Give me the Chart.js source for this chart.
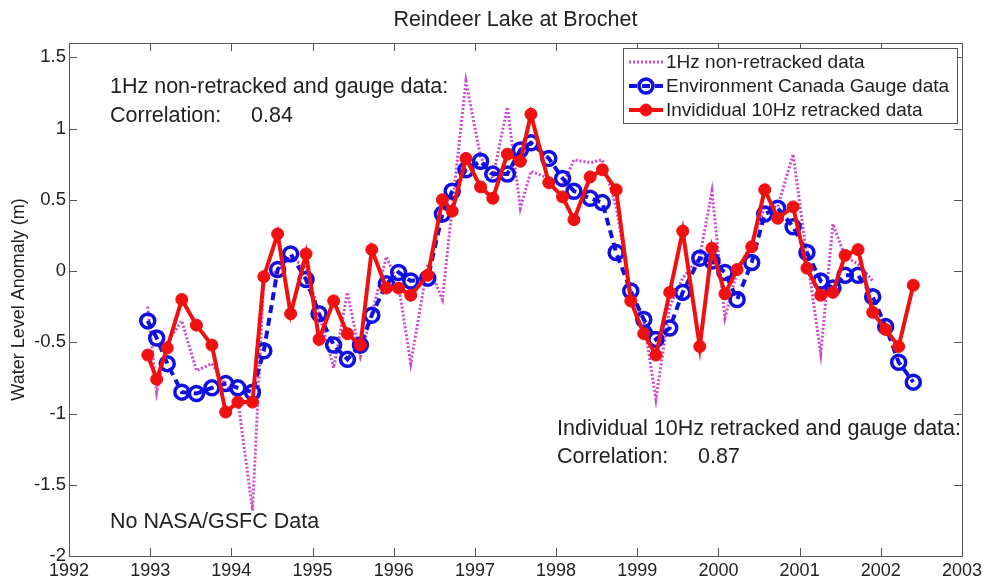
<!DOCTYPE html>
<html>
<head>
<meta charset="utf-8">
<script src="https://cdn.jsdelivr.net/npm/chart.js@4.4.1/dist/chart.umd.min.js"></script>
<style>
  html, body { margin: 0; padding: 0; background: #fff; }
  #wrap { width: 986px; height: 579px; }
</style>
</head>
<body>
<div id="wrap"><canvas id="myChart" width="986" height="579"></canvas></div>
<script>
// sample dates (decimal years), shared by all three series
const dates = [
  1992.97, 1993.08, 1993.21, 1993.39, 1993.57, 1993.76, 1993.93, 1994.08, 1994.26, 1994.40,
  1994.57, 1994.73, 1994.92, 1995.08, 1995.26, 1995.43, 1995.59, 1995.73, 1995.91, 1996.06,
  1996.21, 1996.42, 1996.60, 1996.72, 1996.89, 1997.07, 1997.22, 1997.40, 1997.56, 1997.69,
  1997.91, 1998.08, 1998.22, 1998.42, 1998.57, 1998.74, 1998.92, 1999.08, 1999.23, 1999.40,
  1999.56, 1999.77, 1999.92, 2000.08, 2000.23, 2000.41, 2000.57, 2000.73, 2000.92, 2001.09,
  2001.26, 2001.41, 2001.56, 2001.72, 2001.90, 2002.06, 2002.22, 2002.40
];

// 1Hz non-retracked (stops before 2002)
const oneHz = [
  -0.25, -0.85, -0.50, -0.35, -0.70, -0.65, -0.80, -0.90, -1.68, -0.05,
   0.00,  0.10,  0.02, -0.30, -0.68, -0.15, -0.60, -0.30,  0.10, -0.10,
  -0.65,  0.05, -0.20,  0.45,  1.33,  0.80,  0.65,  1.15,  0.44,  0.70,
   0.65,  0.60,  0.78,  0.76,  0.78,  0.45, -0.15, -0.35, -0.90, -0.25,
  -0.05,  0.10,  0.56, -0.33,  0.00,  0.20,  0.45,  0.45,  0.82,  0.10,
  -0.58,  0.33,  0.10,  0.05, -0.07,  null,  null,  null
];

// Environment Canada gauge
const gauge = [
  -0.35, -0.47, -0.65, -0.85, -0.86, -0.82, -0.79, -0.82, -0.85, -0.56,
   0.01,  0.12, -0.06, -0.30, -0.52, -0.62, -0.52, -0.31, -0.09, -0.01,
  -0.07, -0.05,  0.40,  0.56,  0.71,  0.77,  0.68,  0.68,  0.85,  0.90,
   0.79,  0.65,  0.56,  0.51,  0.48,  0.13, -0.14, -0.34, -0.48, -0.40,
  -0.15,  0.09,  0.07, -0.01, -0.20,  0.06,  0.40,  0.44,  0.31,  0.13,
  -0.07, -0.12, -0.03, -0.03, -0.18, -0.39, -0.64, -0.78
];

// individual 10Hz retracked
const tenHz = [
  -0.59, -0.76, -0.54, -0.20, -0.38, -0.52, -0.99, -0.92, -0.92, -0.04,
   0.26, -0.30,  0.12, -0.48, -0.21, -0.44, -0.52,  0.15, -0.12, -0.12,
  -0.17, -0.03,  0.50,  0.42,  0.79,  0.59,  0.51,  0.82,  0.77,  1.10,
   0.62,  0.52,  0.36,  0.66,  0.71,  0.57, -0.21, -0.44, -0.59, -0.15,
   0.28, -0.53,  0.16, -0.16,  0.01,  0.17,  0.57,  0.37,  0.45,  0.02,
  -0.17, -0.15,  0.11,  0.15, -0.29, -0.41, -0.53, -0.10
];

const seriesNames = ['1Hz non-retracked data', 'Environment Canada Gauge data', 'Invididual 10Hz retracked data'];
const yTicks = [-2, -1.5, -1, -0.5, 0, 0.5, 1, 1.5];
const notes = [
  { text: '1Hz non-retracked and gauge data:', x: 110, y: 93 },
  { text: 'Correlation:     0.84', x: 110, y: 122 },
  { text: 'Individual 10Hz retracked and gauge data:', x: 557, y: 435 },
  { text: 'Correlation:     0.87', x: 557, y: 463 },
  { text: 'No NASA/GSFC Data', x: 110, y: 528 }
];

const FONT = '"Liberation Sans", Arial, sans-serif';
const pts = vals => dates.map((d, i) => ({ x: d, y: vals[i] }));

const frame = {
  id: 'frame',
  afterDraw(chart) {
    const { ctx, chartArea: a, scales: { x, y } } = chart;
    ctx.save();
    ctx.strokeStyle = '#555';
    ctx.lineWidth = 1;
    ctx.strokeRect(Math.round(a.left) + 0.5, Math.round(a.top) + 0.5, Math.round(a.width), Math.round(a.height));
    ctx.beginPath();
    x.ticks.forEach(t => {
      const px = Math.round(x.getPixelForValue(t.value)) + 0.5;
      ctx.moveTo(px, a.bottom); ctx.lineTo(px, a.bottom - 8);
      ctx.moveTo(px, a.top); ctx.lineTo(px, a.top + 8);
    });
    y.ticks.forEach(t => {
      const py = Math.round(y.getPixelForValue(t.value)) + 0.5;
      ctx.moveTo(a.left, py); ctx.lineTo(a.left + 8, py);
      ctx.moveTo(a.right, py); ctx.lineTo(a.right - 8, py);
    });
    ctx.stroke();

    // title
    ctx.fillStyle = '#222';
    ctx.font = '21.5px ' + FONT;
    ctx.textAlign = 'center';
    ctx.textBaseline = 'middle';
    ctx.fillText('Reindeer Lake at Brochet', (a.left + a.right) / 2, 20);

    // notes
    ctx.font = '21.5px ' + FONT;
    ctx.textAlign = 'left';
    ctx.textBaseline = 'alphabetic';
    notes.forEach(n => ctx.fillText(n.text, n.x, n.y));

    // legend box
    const lx = 623, ly = 48, lw = 334, lh = 75;
    ctx.fillStyle = '#fff';
    ctx.fillRect(lx, ly, lw, lh);
    ctx.strokeStyle = '#555';
    ctx.strokeRect(lx + 0.5, ly + 0.5, lw, lh);
    ctx.font = '19px ' + FONT;
    ctx.textBaseline = 'middle';
    chart.data.datasets.forEach((ds, i) => {
      const cy = ly + 14 + i * 24;
      ctx.save();
      ctx.strokeStyle = ds.borderColor;
      ctx.lineWidth = ds.borderWidth;
      ctx.setLineDash(ds.borderDash || []);
      ctx.beginPath();
      ctx.moveTo(lx + 6, cy); ctx.lineTo(lx + 40, cy);
      ctx.stroke();
      ctx.restore();
      if (ds.pointRadius > 0) {
        ctx.save();
        ctx.beginPath();
        ctx.arc(lx + 23, cy, ds.pointRadius, 0, Math.PI * 2);
        ctx.lineWidth = ds.pointBorderWidth;
        ctx.strokeStyle = ds.borderColor;
        ctx.fillStyle = ds.pointBackgroundColor;
        ctx.fill();
        ctx.stroke();
        ctx.restore();
      }
      ctx.fillStyle = '#222';
      ctx.fillText(ds.label, lx + 43, cy + 1);
    });
    ctx.restore();
  }
};

new Chart(document.getElementById('myChart').getContext('2d'), {
  type: 'line',
  data: {
    datasets: [
      {
        label: seriesNames[0], data: pts(oneHz), order: 3,
        borderColor: '#cc48cc', borderWidth: 3, borderDash: [2, 2],
        pointRadius: 0, tension: 0, spanGaps: false
      },
      {
        label: seriesNames[1], data: pts(gauge), order: 2,
        borderColor: '#1010e0', borderWidth: 4, borderDash: [8, 5],
        pointRadius: 7, pointBorderWidth: 3.5, pointBackgroundColor: 'rgba(255,255,255,0)',
        pointBorderColor: '#1010e0', tension: 0
      },
      {
        label: seriesNames[2], data: pts(tenHz), order: 1,
        borderColor: '#f01010', borderWidth: 4,
        pointRadius: 6, pointBorderWidth: 1, pointBackgroundColor: '#f01010',
        pointBorderColor: '#f01010', tension: 0
      }
    ]
  },
  options: {
    responsive: false,
    animation: false,
    devicePixelRatio: 1,
    layout: { padding: { left: 0, right: 23, top: 43, bottom: 0 } },
    plugins: { legend: { display: false }, tooltip: { enabled: false } },
    scales: {
      x: {
        type: 'linear', min: 1992, max: 2003,
        grid: { display: false, drawTicks: false },
        border: { display: false },
        ticks: { stepSize: 1, padding: 4, color: '#222', font: { family: FONT, size: 18 },
                 callback: v => String(v), maxRotation: 0, autoSkip: false },
        afterFit: s => { s.height = 23; }
      },
      y: {
        type: 'linear', min: -2, max: 1.6,
        grid: { display: false, drawTicks: false },
        border: { display: false },
        afterBuildTicks: s => { s.ticks = yTicks.map(v => ({ value: v })); },
        ticks: { padding: 3, color: '#222', font: { family: FONT, size: 18.5 },
                 callback: v => String(v) },
        title: { display: true, text: 'Water Level Anomaly (m)', color: '#222',
                 font: { family: FONT, size: 18 }, padding: { top: 8, bottom: 0 } },
        afterFit: s => { s.width = 69; }
      }
    }
  },
  plugins: [frame]
});
</script>
</body>
</html>
